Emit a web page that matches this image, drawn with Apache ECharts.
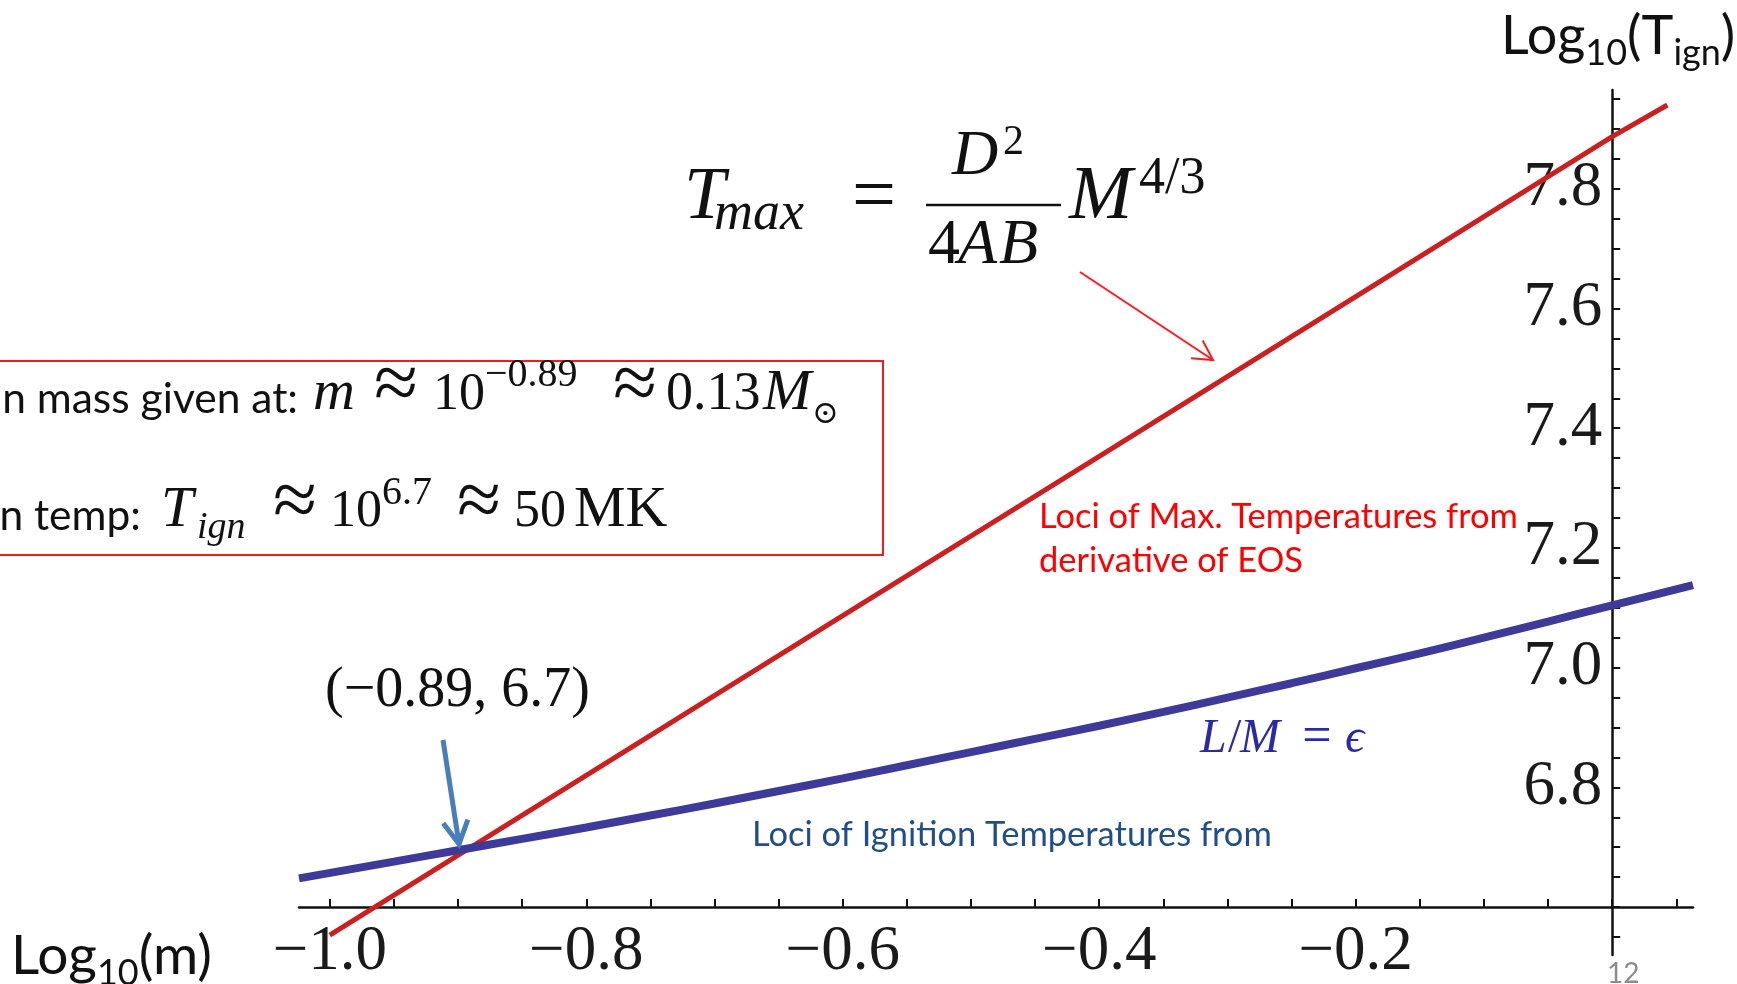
<!DOCTYPE html>
<html><head><meta charset="utf-8">
<script src="https://cdn.jsdelivr.net/npm/echarts@6/dist/echarts.min.js"></script>
<style>html,body{margin:0;padding:0;background:#fff;overflow:hidden}#c{width:1737px;height:984px}</style>
</head><body><div id="c"></div>
<script>
// ---- data ----
const redX = [-1.0, -0.8, -0.6, -0.4, -0.2, 0.0, 0.043];
const redY = [6.553, 6.820, 7.087, 7.353, 7.620, 7.887, 7.940];
const blueX = [-1.024, -0.95, -0.9, -0.85, -0.8, -0.75, -0.7, -0.65, -0.6, -0.55, -0.5, -0.45, -0.4, -0.35, -0.3, -0.25, -0.2, -0.15, -0.1, -0.05, 0.0, 0.063];
const blueY = [6.648, 6.676, 6.695, 6.714, 6.733, 6.753, 6.773, 6.794, 6.815, 6.837, 6.859, 6.881, 6.903, 6.926, 6.950, 6.974, 6.999, 7.024, 7.050, 7.077, 7.104, 7.138];
const xTickValues = [-1.0, -0.95, -0.9, -0.85, -0.8, -0.75, -0.7, -0.65, -0.6, -0.55, -0.5, -0.45, -0.4, -0.35, -0.3, -0.25, -0.2, -0.15, -0.1, -0.05, 0.0, 0.05];
const xLabelValues = [-1.0, -0.8, -0.6, -0.4, -0.2];
const yTickValues = [6.55, 6.6, 6.65, 6.7, 6.75, 6.8, 6.85, 6.9, 6.95, 7.0, 7.05, 7.1, 7.15, 7.2, 7.25, 7.3, 7.35, 7.4, 7.45, 7.5, 7.55, 7.6, 7.65, 7.7, 7.75, 7.8, 7.85, 7.9, 7.95];
const yLabelValues = [6.8, 7.0, 7.2, 7.4, 7.6, 7.8];

// ---- helpers for annotations ----
const SERIF = "'Liberation Serif', 'DejaVu Serif', serif";
const SANS = "Lato, 'Noto Sans', sans-serif";
const KS = 0.32, KL = 0.29;
const ctx = document.createElement('canvas').getContext('2d');
function fontStr(fs, fam, it) { return (it ? 'italic ' : '') + fs + 'px ' + fam; }
function mw(str, fs, fam, it) { ctx.font = fontStr(fs, fam, it); return ctx.measureText(str).width; }
function fit(str, width, fam, it) { return 100 * width / mw(str, 100, fam, it); }
const G = [];
function T(str, x, base, fs, o) {
  o = o || {};
  const fam = o.sans ? SANS : SERIF;
  const k = o.sans ? KL : KS;
  G.push({ type: 'text', x: x, y: base - k * fs, z: 50, silent: true,
    style: { text: str, font: fontStr(fs, fam, o.it), fill: o.color || '#111',
      textAlign: o.align || 'left', align: o.align || 'left',
      textVerticalAlign: 'middle', verticalAlign: 'middle' } });
  return x + mw(str, fs, fam, o.it);
}
function arrow(x1, y1, x2, y2, color, lw, head, ang) {
  G.push({ type: 'line', z: 40, silent: true, shape: { x1: x1, y1: y1, x2: x2, y2: y2 }, style: { stroke: color, lineWidth: lw } });
  const a = Math.atan2(y2 - y1, x2 - x1);
  const p1 = [x2 - head * Math.cos(a - ang), y2 - head * Math.sin(a - ang)];
  const p2 = [x2 - head * Math.cos(a + ang), y2 - head * Math.sin(a + ang)];
  G.push({ type: 'polyline', z: 40, silent: true, shape: { points: [p1, [x2, y2], p2] }, style: { stroke: color, lineWidth: lw, fill: null } });
}

// formula T_max = D^2/(4AB) M^{4/3}
T('T', 684, 222, 74, { it: true });
T('max', 714, 232, 54, { it: true });
T('=', 874, 224, 78, { align: 'center' });
G.push({ type: 'line', z: 40, silent: true, shape: { x1: 926, y1: 205, x2: 1061, y2: 205 }, style: { stroke: '#111', lineWidth: 2.5 } });
T('D', 952, 178, 64, { it: true });
T('2', 1003, 156, 42);
(function () { let x = 928; x = T('4', x, 267, 64); x = T('A', x - 2, 267, 64, { it: true }); T('B', x + 2, 267, 64, { it: true }); })();
T('M', 1069, 222, 76, { it: true });
T('4/3', 1139, 196, 52);

// red box
G.push({ type: 'rect', z: 30, silent: true, shape: { x: -10, y: 361, width: 893, height: 194 }, style: { stroke: '#ee1c1c', lineWidth: 2, fill: null } });
const boxFs = fit('n mass given at:', 296, SANS, false);
T('n mass given at:', 298, 412, boxFs, { sans: true, align: 'right' });
T('m', 313, 412, 58, { it: true });
T('\u2248', 396, 414, 80, { align: 'center' });
T('10', 433, 412, 52);
T('\u22120.89', 485, 388, 40);
T('\u2248', 635, 414, 80, { align: 'center' });
T('0.13', 666, 412, 54);
T('M', 763, 412, 58, { it: true });
T('\u2299', 812, 425, 32);
T('n temp:', 141, 529, boxFs, { sans: true, align: 'right' });
T('T', 161, 529, 58, { it: true });
T('ign', 197, 540, 38, { it: true });
T('\u2248', 295, 531, 80, { align: 'center' });
T('10', 330, 529, 52);
T('6.7', 382, 506, 40);
T('\u2248', 479, 531, 80, { align: 'center' });
T('50', 514, 529, 52);
T('MK', 574, 529, 58);

// red annotation text & arrow
const redFs = fit('Loci of Max. Temperatures from', 479, SANS, false);
T('Loci of Max. Temperatures from', 1039, 527, redFs, { sans: true, color: '#ff0000' });
T('derivative of EOS', 1039, 571, redFs, { sans: true, color: '#ff0000' });
arrow(1080, 272, 1213, 360, '#ff1a1a', 2, 22, 0.5);

// blue annotations
const bluFs = fit('Loci of Ignition Temperatures from', 520, SANS, false);
T('Loci of Ignition Temperatures from', 752, 845, bluFs, { sans: true, color: '#1f4e8a' });
T('L', 1200, 755, 48, { it: true, color: '#2a2aa6' });
T('/', 1228, 755, 48, { color: '#2a2aa6' });
T('M', 1240, 755, 48, { it: true, color: '#2a2aa6' });
T('=', 1317, 755, 52, { align: 'center', color: '#2a2aa6' });
T('\u03F5', 1345, 755, 48, { it: true, color: '#2a2aa6' });
T('(\u22120.89, 6.7)', 325, 709, 56);
arrow(443, 740, 459, 844, '#4a7ebb', 5, 26, 0.5);

// axis names
(function () {
  let x = 11; const fs = 55, sfs = 36;
  x = T('Log', x, 972, fs, { sans: true });
  x = T('10', x, 984, sfs, { sans: true });
  T('(m)', x, 972, fs, { sans: true });
  x = 1501;
  x = T('Log', x, 52, 54, { sans: true });
  x = T('10', x, 64, sfs, { sans: true });
  x = T('(T', x, 52, 54, { sans: true });
  x = T('ign', x, 64, sfs, { sans: true });
  T(')', x, 52, 54, { sans: true });
  T('12', 1607, 982, 28, { sans: true, color: '#8c8c8c' });
})();

const fmt = v => (v < 0 ? '\u2212' : '') + Math.abs(v).toFixed(1);
const GRID_L = 299, GRID_R = 44;
const X_MIN = -1.024, X_MAX = 0.063;
// y axis sits where x = 0 (Mathematica-style crossing axes)
const yAxisOffset = -(1737 - GRID_L - GRID_R) * (0 - X_MIN) / (X_MAX - X_MIN);
const chart = echarts.init(document.getElementById('c'));
chart.setOption({
  animation: false,
  backgroundColor: '#ffffff',
  grid: { left: GRID_L, right: GRID_R, top: 90, bottom: 24, containLabel: false },
  xAxis: {
    type: 'value', min: X_MIN, max: X_MAX, offset: -48,
    axisLine: { onZero: false, lineStyle: { color: '#111', width: 2.5 } },
    axisTick: { inside: true, length: 8, customValues: xTickValues, lineStyle: { color: '#111', width: 2 } },
    axisLabel: { customValues: xLabelValues, formatter: fmt, fontFamily: SERIF, fontSize: 63, color: '#1a1a1a', margin: 14 },
    splitLine: { show: false }
  },
  yAxis: {
    type: 'value', min: 6.52, max: 7.965, position: 'left', offset: yAxisOffset,
    axisLine: { onZero: false, lineStyle: { color: '#111', width: 2.5 } },
    axisTick: { inside: true, length: 8, customValues: yTickValues, lineStyle: { color: '#111', width: 2 } },
    axisLabel: { customValues: yLabelValues, formatter: v => v.toFixed(1), fontFamily: SERIF, fontSize: 63, color: '#1a1a1a', margin: 10 },
    splitLine: { show: false }
  },
  series: [
    { type: 'line', data: redX.map((x, i) => [x, redY[i]]), symbol: 'none', silent: true, z: 2,
      lineStyle: { color: '#cc1f1f', width: 5 } },
    { type: 'line', data: blueX.map((x, i) => [x, blueY[i]]), symbol: 'none', silent: true, z: 3, smooth: 0.3,
      lineStyle: { color: '#3d3a9a', width: 8 } }
  ],
  graphic: { elements: G }
});
</script></body></html>
